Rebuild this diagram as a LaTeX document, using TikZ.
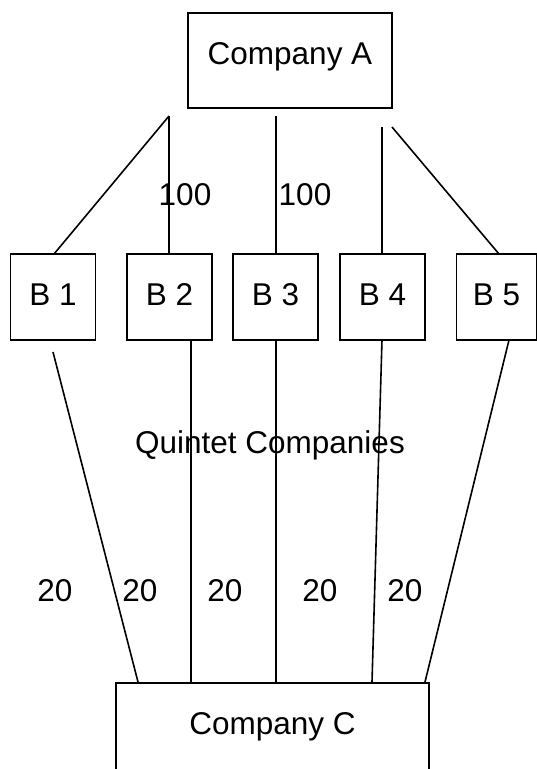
\documentclass[tikz,border=0pt]{standalone}
\usepackage{fontspec}
\setmainfont{Liberation Sans}
\begin{document}
\begin{tikzpicture}[x=1pt,y=-1pt,
  line width=1.6pt,
  every node/.style={font=\fontsize{31.5}{38}\selectfont},
  company/.style={draw, rectangle, text height=22.5pt, inner xsep=0pt, inner ysep=29pt},
  subbox/.style={draw, rectangle, minimum width=85pt, text height=22.5pt, text depth=6.5pt, inner xsep=0pt, inner ysep=28.5pt},
  lbl/.style={anchor=base, inner sep=0pt}]
\useasboundingbox (0,0) rectangle (537,769);

% holding company and the five subsidiaries
\node[company, minimum width=204pt, text depth=15pt] (a) at (290,60.5) {Company A};
\node[subbox] (b1) at (53,297) {B 1};
\node[subbox] (b2) at (169.5,297) {B 2};
\node[subbox] (b3) at (275.5,297) {B 3};
\node[subbox] (b4) at (382.5,297) {B 4};
\node[subbox, minimum width=80pt] (b5) at (496.5,297) {B 5};
% bottom company, its lower edge runs off the page
\node[company, minimum width=313pt, text depth=100pt, anchor=north] (c) at (272.5,682) {Company C};

% upper ends of the links below company A
\coordinate (a12) at (169,116);
\coordinate (a3) at (276,116);
\coordinate (a4) at (382,127);
\coordinate (a5) at (392,127);
% attachment points on the subsidiary boxes
\coordinate (b1t) at (54,254);
\coordinate (b2t) at (169,254);
\coordinate (b3t) at (276,254);
\coordinate (b4t) at (382,254);
\coordinate (b5t) at (499,254);
\coordinate (b1b) at (53,352);
\coordinate (b2b) at (191,340);
\coordinate (b3b) at (276,340);
\coordinate (b4b) at (382,340);
\coordinate (b5b) at (509,340);
% attachment points on company C
\coordinate (c1) at (138,682);
\coordinate (c2) at (191,682);
\coordinate (c3) at (276,682);
\coordinate (c4) at (372,682);
\coordinate (c5) at (425,682);

\draw (a12) -- (b1t);
\draw (a12) -- (b2t);
\draw (a3) -- (b3t);
\draw (a4) -- (b4t);
\draw (a5) -- (b5t);

\draw (b1b) -- (c1);
\draw (b2b) -- (c2);
\draw (b3b) -- (c3);
\draw (b4b) -- (c4);
\draw (b5b) -- (c5);

% shareholding labels
\node[lbl] (p1) at (185,205) {100};
\node[lbl] (p2) at (305,205) {100};
\node[lbl] (q) at (270,453) {Quintet Companies};
\node[lbl] (s1) at (55,601) {20};
\node[lbl] (s2) at (140,601) {20};
\node[lbl] (s3) at (225,601) {20};
\node[lbl] (s4) at (320,601) {20};
\node[lbl] (s5) at (405,601) {20};
\end{tikzpicture}
\end{document}
